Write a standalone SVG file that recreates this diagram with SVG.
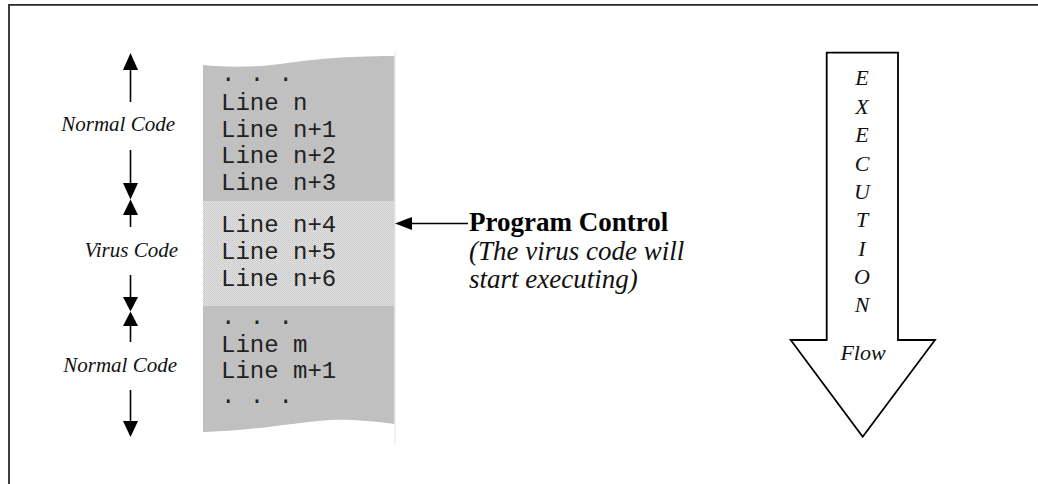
<svg xmlns="http://www.w3.org/2000/svg" width="1038" height="484" viewBox="0 0 1038 484">
  <style>
    .code { font-family: "Liberation Mono", "Courier New", monospace; font-size: 24px; fill: #222; }
    .lbl { font-family: "Liberation Serif", "Times New Roman", serif; font-style: italic; font-size: 21px; fill: #111; }
    .bold { font-family: "Liberation Serif", "Times New Roman", serif; font-weight: bold; font-size: 27px; fill: #000; }
    .note { font-family: "Liberation Serif", "Times New Roman", serif; font-style: italic; font-size: 27px; fill: #111; }
    .exe { font-family: "Liberation Serif", "Times New Roman", serif; font-style: italic; font-size: 22px; fill: #111; text-anchor: middle; }
    .shaft { stroke: #000; stroke-width: 1.6; fill: none; }
    .head { fill: #000; }
  </style>
  <defs>
    <pattern id="stipple" width="2" height="2" patternUnits="userSpaceOnUse">
      <rect width="2" height="2" fill="#e2e2e2"/>
      <rect width="1" height="1" fill="#c6c6c6"/>
      <rect x="1" y="1" width="1" height="1" fill="#cfcfcf"/>
    </pattern>
  </defs>

  <rect width="1038" height="484" fill="#fff"/>

  <!-- outer frame: top and left edges only -->
  <g id="frame">
    <path d="M9,484 V4.8 H1038" fill="none" stroke="#2a2a2a" stroke-width="1.8"/>
  </g>

  <!-- listing column -->
  <g id="code-listing">
    <path d="M203,65 C225,67 250,68 280,64 C310,60 340,56 394.5,56 V424 C370,421 350,419 330,420 C290,423 260,430 203,432 Z" fill="#c0c0c0"/>
    <rect x="203" y="201" width="191.5" height="105" fill="url(#stipple)"/>
    <line x1="395" y1="52" x2="395" y2="445" stroke="#e4e4e4" stroke-width="1"/>
    <text class="code" x="221" y="81">. . .</text>
    <text class="code" x="221" y="110">Line n</text>
    <text class="code" x="221" y="137">Line n+1</text>
    <text class="code" x="221" y="163">Line n+2</text>
    <text class="code" x="221" y="190">Line n+3</text>
    <text class="code" x="221" y="232">Line n+4</text>
    <text class="code" x="221" y="259">Line n+5</text>
    <text class="code" x="221" y="286">Line n+6</text>
    <text class="code" x="221" y="324">. . .</text>
    <text class="code" x="221" y="352">Line m</text>
    <text class="code" x="221" y="378">Line m+1</text>
    <text class="code" x="221" y="403">. . .</text>
  </g>

  <!-- section labels -->
  <g id="label-normal-top">
    <text class="lbl" x="175" y="131" text-anchor="end">Normal Code</text>
  </g>
  <g id="label-virus">
    <text class="lbl" x="178" y="257" text-anchor="end">Virus Code</text>
  </g>
  <g id="label-normal-bottom">
    <text class="lbl" x="177" y="372" text-anchor="end">Normal Code</text>
  </g>

  <!-- program control note -->
  <g id="program-control">
    <text class="bold" x="469" y="231">Program Control</text>
    <text class="note" x="469" y="260">(The virus code will</text>
    <text class="note" x="469" y="288">start executing)</text>
  </g>

  <!-- span markers and pointer arrow -->
  <g id="connectors">
    <line class="shaft" x1="130.5" y1="69" x2="130.5" y2="102"/>
    <path class="head" d="M130.5,53 L138,70 L123,70 Z"/>

    <line class="shaft" x1="130.5" y1="150" x2="130.5" y2="184"/>
    <path class="head" d="M130.5,199.5 L138,183 L123,183 Z"/>
    <path class="head" d="M130.5,199.5 L138,215 L123,215 Z"/>
    <line class="shaft" x1="130.5" y1="214" x2="130.5" y2="227"/>

    <line class="shaft" x1="130.5" y1="275" x2="130.5" y2="298"/>
    <path class="head" d="M130.5,311.5 L138,297 L123,297 Z"/>
    <path class="head" d="M130.5,311.5 L138,326 L123,326 Z"/>
    <line class="shaft" x1="130.5" y1="325" x2="130.5" y2="342"/>

    <line class="shaft" x1="130.5" y1="390" x2="130.5" y2="423"/>
    <path class="head" d="M130.5,437 L138,421 L123,421 Z"/>

    <line class="shaft" x1="411" y1="223.5" x2="468" y2="223.5"/>
    <path class="head" d="M395,223.5 L412,217 L412,230 Z"/>
  </g>

  <!-- execution flow block arrow -->
  <g id="execution-flow">
    <path d="M826.7,52.7 H898 V340 H935 L862.7,436.7 L790.7,340 H826.7 Z" fill="#fff" stroke="#000" stroke-width="1.8" stroke-linejoin="miter"/>
    <text class="exe" x="862" y="85">E</text>
    <text class="exe" x="862" y="114">X</text>
    <text class="exe" x="862" y="142">E</text>
    <text class="exe" x="862" y="171">C</text>
    <text class="exe" x="862" y="199">U</text>
    <text class="exe" x="862" y="227">T</text>
    <text class="exe" x="862" y="256">I</text>
    <text class="exe" x="862" y="284">O</text>
    <text class="exe" x="862" y="312">N</text>
    <text class="exe" x="863" y="360" font-size="25">Flow</text>
  </g>
</svg>
